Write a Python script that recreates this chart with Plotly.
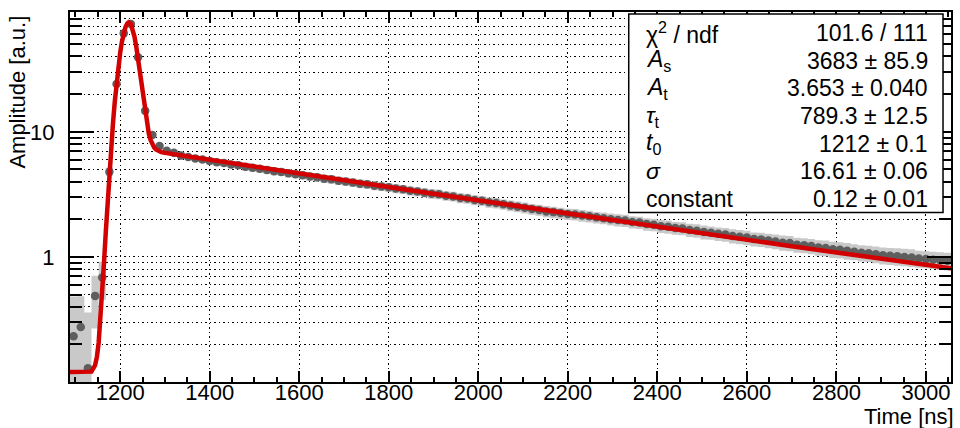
import numpy as np
import plotly.graph_objects as go

# ---- histogram: 16 ns bins starting at 1088 ns ----
bin_low = 1088
bin_width = 16

amplitude = [
    0.232, 0.275, 0.129, 0.488, 0.684, 4.79, 24.1, 61.2, 72.8, 39.4,
    14.7, 9.41, 7.69, 7.05, 6.80, 6.45, 6.30, 6.12, 6.00, 5.85,
    5.70, 5.62, 5.48, 5.40, 5.25, 5.15, 5.06, 4.95, 4.84, 4.78,
    4.66, 4.58, 4.50, 4.40, 4.33, 4.22, 4.17, 4.06, 4.00, 3.93,
    3.85, 3.80, 3.71, 3.66, 3.60, 3.52, 3.47, 3.38, 3.33, 3.26,
    3.20, 3.17, 3.08, 3.04, 2.96, 2.93, 2.85, 2.81, 2.73, 2.70,
    2.63, 2.57, 2.52, 2.47, 2.41, 2.37, 2.31, 2.28, 2.24, 2.20,
    2.18, 2.14, 2.11, 2.07, 2.04, 2.00, 1.97, 1.95, 1.90, 1.88,
    1.83, 1.81, 1.76, 1.74, 1.70, 1.69, 1.64, 1.62, 1.58, 1.56,
    1.53, 1.51, 1.47, 1.45, 1.43, 1.39, 1.38, 1.35, 1.33, 1.30,
    1.29, 1.25, 1.24, 1.22, 1.19, 1.18, 1.15, 1.14, 1.12, 1.10,
    1.08, 1.07, 1.05, 1.03, 1.02, 1.01, 1.00, 0.99, 0.97, 0.96,
    0.95, 0.94, 0.93,
]

amplitude_err = [
    0.25, 0.21, 0.23, 0.22, 0.23, 0.36, 0.78, 1.25, 1.35, 1.00,
    0.60, 0.48, 0.43, 0.41, 0.41, 0.40, 0.39, 0.39, 0.38, 0.38,
    0.37, 0.37, 0.37, 0.36, 0.36, 0.35, 0.35, 0.35, 0.34, 0.34,
    0.34, 0.33, 0.33, 0.33, 0.32, 0.32, 0.32, 0.31, 0.31, 0.31,
    0.31, 0.30, 0.30, 0.30, 0.30, 0.29, 0.29, 0.29, 0.28, 0.28,
    0.28, 0.28, 0.27, 0.27, 0.27, 0.27, 0.26, 0.26, 0.26, 0.26,
    0.25, 0.25, 0.25, 0.25, 0.24, 0.24, 0.24, 0.24, 0.23, 0.23,
    0.23, 0.23, 0.23, 0.22, 0.22, 0.22, 0.22, 0.22, 0.21, 0.21,
    0.21, 0.21, 0.21, 0.21, 0.20, 0.20, 0.20, 0.20, 0.20, 0.19,
    0.19, 0.19, 0.19, 0.19, 0.19, 0.18, 0.18, 0.18, 0.18, 0.18,
    0.18, 0.17, 0.17, 0.17, 0.17, 0.17, 0.17, 0.17, 0.17, 0.16,
    0.16, 0.16, 0.16, 0.16, 0.16, 0.16, 0.16, 0.16, 0.15, 0.15,
    0.15, 0.15, 0.15,
]

# ---- fitted curve (time in ns, amplitude) ----
fit_time = [
    1088, 1120, 1136, 1144, 1148, 1152, 1156, 1160, 1164, 1168,
    1172, 1176, 1180, 1184, 1188, 1192, 1196, 1200, 1204, 1208,
    1212, 1216, 1219, 1224, 1228, 1232, 1236, 1240, 1244, 1248,
    1252, 1256, 1260, 1264, 1268, 1272, 1276, 1280, 1286, 1292,
    1300, 1350, 1400, 1500, 1600, 1700, 1800, 1900, 2000, 2100,
    2200, 2300, 2400, 2500, 2600, 2700, 2800, 2900, 3000, 3056,
]
fit_amp = [
    0.120, 0.120, 0.121, 0.136, 0.158, 0.206, 0.31, 0.515, 0.90, 1.59,
    2.77, 4.67, 7.55, 11.7, 17.4, 24.6, 33.2, 42.7, 52.5, 61.5,
    68.9, 73.5, 74.9, 72.5, 66.4, 57.7, 47.9, 38.0, 29.6, 22.8,
    17.5, 14.0, 11.4, 9.7, 8.6, 7.95, 7.5, 7.22, 7.0, 6.88,
    6.78, 6.38, 5.99, 5.28, 4.66, 4.11, 3.62, 3.20, 2.83, 2.50,
    2.21, 1.96, 1.74, 1.54, 1.37, 1.217, 1.085, 0.968, 0.866, 0.813,
]

# ---- fit statistics ----
stat_labels = [
    "\u03c7<sup>2</sup> / ndf",
    "<i>A</i><sub>s</sub>",
    "<i>A</i><sub>t</sub>",
    "<i>\u03c4</i><sub>t</sub>",
    "<i>t</i><sub>0</sub>",
    "<i>\u03c3</i>",
    "constant",
]
stat_values = [
    "101.6 / 111",
    "3683 \u00b1 85.9",
    "3.653 \u00b1 0.040",
    "789.3 \u00b1 12.5",
    "1212 \u00b1 0.1",
    "16.61 \u00b1 0.06",
    "0.12 \u00b1 0.01",
]

x_tick_vals = [1200, 1400, 1600, 1800, 2000, 2200, 2400, 2600, 2800, 3000]
y_tick_vals = [1, 10]
y_tick_text = ["1", "10"]
y_minor_vals = [m * 10.0 ** d for d in (-1, 0, 1) for m in range(2, 10)]

FONT = "Liberation Sans, Arial, Helvetica, sans-serif"
DOT = "1.5px,3px"

n_bins = len(amplitude)
bin_centre = bin_low + bin_width * (np.arange(n_bins) + 0.5)
x_min = bin_low
x_max = bin_low + bin_width * n_bins

# error boxes: one closed rectangle per bin, separated by gaps
box_x, box_y = [], []
for c, v, e in zip(bin_centre, amplitude, amplitude_err):
    lo = max(v - e, 1e-3)
    hi = v + e
    x0, x1 = c - bin_width / 2, c + bin_width / 2
    box_x += [x0, x1, x1, x0, x0, None]
    box_y += [lo, lo, hi, hi, lo, None]

fig = go.Figure()
fig.add_trace(go.Scatter(
    x=box_x, y=box_y, mode="lines", fill="toself",
    fillcolor="#c9c9c9", line=dict(width=0), hoverinfo="skip",
    showlegend=False,
))
fig.add_trace(go.Scatter(
    x=bin_centre, y=amplitude, mode="markers",
    marker=dict(size=8.5, color="#5e5e5e", line=dict(width=0)),
    showlegend=False,
))
fig.add_trace(go.Scatter(
    x=fit_time, y=fit_amp, mode="lines",
    line=dict(color="#d20000", width=4.5),
    showlegend=False,
))

W, H = 960, 428
ml, mr, mt, mb = 70, 7, 12, 46
pw, ph = W - ml - mr, H - mt - mb


def px_x(x):
    return (x - ml) / pw


def px_y(y):
    return 1 - (y - mt) / ph


fig.update_layout(
    width=W, height=H,
    margin=dict(l=ml, r=mr, t=mt, b=mb),
    paper_bgcolor="white", plot_bgcolor="white",
    font=dict(family=FONT, size=22, color="black"),
    showlegend=False,
)

fig.update_xaxes(
    range=[x_min, x_max],
    tickmode="array", tickvals=x_tick_vals,
    ticks="inside", ticklen=11, tickwidth=1.5, tickcolor="black",
    showline=True, linecolor="black", linewidth=2, mirror="allticks",
    showgrid=True, gridcolor="black", gridwidth=1, griddash=DOT,
    zeroline=False,
    tickfont=dict(family=FONT, size=22, color="black"),
    ticklabelstandoff=-10,
    minor=dict(ticks="inside", ticklen=5, tickwidth=1.5, tickcolor="black",
               tick0=0, dtick=50, showgrid=False),
)
fig.update_yaxes(
    type="log", range=[-1, 1.9576],
    tickmode="array", tickvals=y_tick_vals, ticktext=y_tick_text,
    ticks="inside", ticklen=24, tickwidth=1.5, tickcolor="black",
    showline=True, linecolor="black", linewidth=2, mirror="allticks",
    showgrid=True, gridcolor="black", gridwidth=1, griddash=DOT,
    zeroline=False,
    tickfont=dict(family=FONT, size=22, color="black"),
    ticklabelstandoff=9,
    minor=dict(tickmode="array", tickvals=y_minor_vals,
               ticks="inside", ticklen=12, tickwidth=1.5, tickcolor="black",
               showgrid=True, gridcolor="black", gridwidth=1, griddash=DOT),
)

# statistics box
fig.add_shape(
    type="rect", xref="paper", yref="paper",
    x0=px_x(630), x1=px_x(945), y0=px_y(212.5), y1=px_y(14),
    line=dict(color="black", width=1.5), fillcolor="white", layer="above",
)
row_y = [33, 60.7, 88.3, 116, 143.7, 171.3, 199]
for lab, val, yy in zip(stat_labels, stat_values, row_y):
    fig.add_annotation(
        text=lab, xref="paper", yref="paper", x=px_x(645), y=px_y(yy),
        xanchor="left", yanchor="middle", showarrow=False,
        font=dict(family=FONT, size=23, color="black"),
    )
    fig.add_annotation(
        text=val, xref="paper", yref="paper", x=px_x(932), y=px_y(yy),
        xanchor="right", yanchor="middle", showarrow=False,
        font=dict(family=FONT, size=23, color="black"),
    )

# axis titles
fig.add_annotation(
    text="Amplitude [a.u.]", xref="paper", yref="paper",
    x=px_x(17), y=px_y(92.5), textangle=-90,
    xanchor="center", yanchor="middle", showarrow=False,
    font=dict(family=FONT, size=22, color="black"),
)
fig.add_annotation(
    text="Time [ns]", xref="paper", yref="paper",
    x=px_x(958), y=px_y(416),
    xanchor="right", yanchor="middle", showarrow=False,
    font=dict(family=FONT, size=22, color="black"),
)

fig.write_html("out.html")
